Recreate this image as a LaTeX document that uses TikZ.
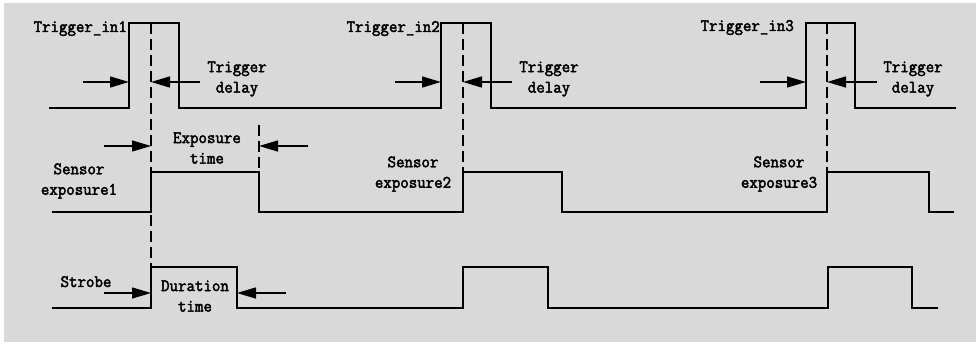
\documentclass[tikz,border=0pt]{standalone}
\usepackage{fontspec}
\newfontfamily\sigfont[FakeBold=2.5,FakeStretch=0.94]{Latin Modern Mono}
\usetikzlibrary{arrows.meta}
\definecolor{panel}{HTML}{D9D9D9}
\tikzset{
  wave/.style={line width=1.4pt},
  guide/.style={line width=1.2pt, dash pattern=on 11pt off 5pt},
  marker/.style={line width=1.4pt, -{Triangle[length=19pt,width=11pt]}},
  lbl/.style={font=\sigfont\fontsize{17.5}{20.5}\selectfont, align=center, inner sep=0pt},
}

\begin{document}
\begin{tikzpicture}[x=1pt,y=-1pt]
        \fill[white] (0,0) rectangle (976,344);
        \fill[panel] (4,3) rectangle (976,342);
        % signals
        \draw[wave] (49,108) -| (129,23) -| (179,108) -| (441,23) -| (491,108) -| (806,23) -| (855,108) -- (956,108);
        \draw[wave] (52,212) -| (151,172) -| (259,212) -| (463,172) -| (562,212) -| (827,172) -| (929,212) -- (954,212);
        \draw[wave] (52,308) -| (151,267) -| (237,308) -| (463,267) -| (548,308) -| (828,267) -| (912,308) -- (938,308);
        % dashed guides
        \draw[guide] (151,23) -- (151,267);
        \draw[guide] (463,23) -- (463,172);
        \draw[guide] (827,23) -- (827,172);
        \draw[guide] (259,125) -- (259,172);
        % arrows
        \foreach \xa/\xb/\yy in {83/129/82, 200/151/82, 395/441/82, 512/463/82, 760/806/82, 877/827/82,
                                 104/151/146, 308/259/146, 104/151/293, 286/237/293}
            \draw[marker] (\xa,\yy) -- (\xb,\yy);
        % labels
        \node[lbl, anchor=base east] (tin1) at (127,32) {Trigger\_in1};
        \node[lbl, anchor=base east] (tin2) at (440,32) {Trigger\_in2};
        \node[lbl, anchor=base east] (tin3) at (794,31) {Trigger\_in3};
        \node[lbl] (td1) at (237,79) {Trigger\\delay};
        \node[lbl] (td2) at (549,79) {Trigger\\delay};
        \node[lbl] (td3) at (913,79) {Trigger\\delay};
        \node[lbl] (expt) at (207,148) {Exposure\\time};
        \node[lbl] (sen1) at (79,181) {Sensor\\exposure1};
        \node[lbl] (sen2) at (413,174) {Sensor\\exposure2};
        \node[lbl] (sen3) at (779,174) {Sensor\\exposure3};
        \node[lbl, anchor=base] (strb) at (86,287) {Strobe};
        \node[lbl] (durt) at (195,296) {Duration\\time};
    \end{tikzpicture}
\end{document}
